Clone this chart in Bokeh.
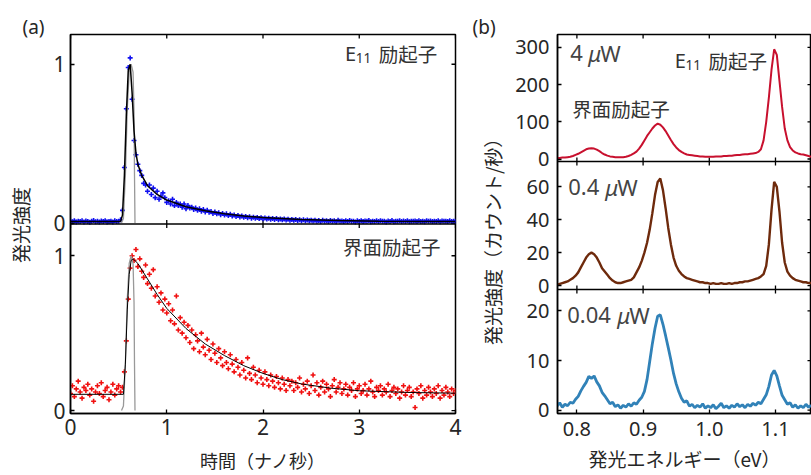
import numpy as np
from bokeh.plotting import figure
from bokeh.layouts import row
from bokeh.models import (Label, FixedTicker, Range1d, PrintfTickFormatter,
                          CustomJSTickFormatter, Span)
from bokeh.embed import file_html
from bokeh.resources import INLINE

JP = "Noto Sans CJK JP"
NUM = "Noto Sans"
INK = "#262626"

# ---------------- (a) time-resolved PL (time step 0.02 ns) ----------------
T_STEP = 0.02
e11_counts = [
    # 0.00 - 0.50
    0.012, 0.008, 0.015, 0.006, 0.011, 0.009, 0.014, 0.007, 0.013, 0.010,
    0.005, 0.012, 0.016, 0.008, 0.011, 0.006, 0.013, 0.009, 0.015, 0.007,
    0.010, 0.012, 0.006, 0.014, 0.009, 0.011,
    # 0.52 - 1.00
    0.02, 0.08, 0.35, 0.72, 0.98, 1.04, 0.78, 0.52, 0.43, 0.37,
    0.33, 0.30, 0.25, 0.24, 0.20, 0.24, 0.18, 0.22, 0.16, 0.20,
    0.15, 0.17, 0.19, 0.16, 0.13,
    # 1.02 - 2.50
    0.14, 0.12, 0.15, 0.11, 0.13, 0.11, 0.12, 0.10, 0.12, 0.09,
    0.11, 0.095, 0.10, 0.085, 0.095, 0.08, 0.09, 0.075, 0.085, 0.07,
    0.08, 0.068, 0.072, 0.06, 0.07, 0.058, 0.065, 0.052, 0.06, 0.05,
    0.058, 0.047, 0.055, 0.044, 0.05, 0.042, 0.048, 0.038, 0.045, 0.036,
    0.042, 0.034, 0.04, 0.031, 0.037, 0.03, 0.035, 0.028, 0.033, 0.027,
    0.032, 0.025, 0.03, 0.024, 0.029, 0.022, 0.028, 0.021, 0.026, 0.02,
    0.025, 0.019, 0.024, 0.018, 0.023, 0.017, 0.022, 0.016, 0.021, 0.015,
    0.02, 0.015, 0.019, 0.014, 0.018,
    # 2.52 - 4.00
    0.013, 0.017, 0.011, 0.016, 0.010, 0.018, 0.012, 0.015, 0.009, 0.016,
    0.011, 0.014, 0.008, 0.017, 0.012, 0.013, 0.009, 0.015, 0.010, 0.016,
    0.011, 0.012, 0.007, 0.014, 0.010, 0.015, 0.009, 0.013, 0.011, 0.016,
    0.008, 0.012, 0.010, 0.014, 0.009, 0.015, 0.011, 0.012, 0.007, 0.013,
    0.010, 0.016, 0.008, 0.012, 0.011, 0.014, 0.009, 0.013, 0.010, 0.015,
    0.008, 0.012, 0.011, 0.013, 0.009, 0.014, 0.010, 0.012, 0.008, 0.015,
    0.011, 0.013, 0.009, 0.012, 0.010, 0.014, 0.008, 0.013, 0.011, 0.012,
    0.009, 0.014, 0.010, 0.012, 0.011,
]
interface_counts = [
    # 0.00 - 0.54
    0.11, 0.16, 0.09, 0.14, 0.19, 0.12, 0.08, 0.15, 0.13, 0.17,
    0.10, 0.14, 0.06, 0.12, 0.16, 0.11, 0.18, 0.09, 0.13, 0.15,
    0.07, 0.12, 0.17, 0.10, 0.14, 0.16, 0.12, 0.15,
    # 0.56 - 1.00
    0.25, 0.45, 0.72, 0.92, 1.00, 0.97, 1.04, 0.93, 0.98, 0.90,
    0.86, 0.94, 0.82, 0.88, 0.79, 0.91, 0.74, 0.80, 0.70, 0.76,
    0.65, 0.72, 0.63,
    # 1.02 - 2.50
    0.69, 0.58, 0.65, 0.56, 0.74, 0.52, 0.60, 0.50, 0.57, 0.47,
    0.55, 0.44, 0.52, 0.40, 0.49, 0.45, 0.38, 0.50, 0.41, 0.36,
    0.46, 0.39, 0.33, 0.43, 0.37, 0.31, 0.40, 0.34, 0.29, 0.38,
    0.31, 0.27, 0.36, 0.30, 0.25, 0.33, 0.28, 0.23, 0.31, 0.26,
    0.21, 0.34, 0.24, 0.20, 0.28, 0.23, 0.18, 0.26, 0.21, 0.17,
    0.25, 0.20, 0.16, 0.23, 0.19, 0.15, 0.22, 0.18, 0.14, 0.21,
    0.17, 0.13, 0.20, 0.16, 0.19, 0.13, 0.18, 0.15, 0.21, 0.12,
    0.17, 0.14, 0.19, 0.11, 0.16,
    # 2.52 - 4.00
    0.23, 0.13, 0.18, 0.10, 0.15, 0.19, 0.12, 0.17, 0.14, 0.09,
    0.16, 0.20, 0.12, 0.15, 0.18, 0.11, 0.14, 0.17, 0.10, 0.15,
    0.13, 0.18, 0.09, 0.14, 0.16, 0.11, 0.13, 0.17, 0.10, 0.14,
    0.19, 0.12, 0.09, 0.15, 0.13, 0.16, 0.10, 0.14, 0.12, 0.17,
    0.09, 0.13, 0.15, 0.11, 0.14, 0.08, 0.12, 0.16, 0.10, 0.13,
    0.15, 0.09, 0.12, 0.02, 0.14, 0.11, 0.16, 0.08, 0.13, 0.10,
    0.15, 0.12, 0.09, 0.14, 0.11, 0.16, 0.08, 0.13, 0.10, 0.15,
    0.12, 0.09, 0.14, 0.11, 0.13,
]
e11_fit_t = [0, 0.52, 0.54, 0.56, 0.58, 0.60, 0.62, 0.64, 0.66, 0.68, 0.70, 0.74, 0.80,
             0.90, 1.0, 1.2, 1.4, 1.6, 1.8, 2.0, 2.4, 2.8, 3.2, 3.6, 4.0]
e11_fit_y = [0.01, 0.01, 0.05, 0.3, 0.68, 0.96, 1.0, 0.82, 0.58, 0.44, 0.37, 0.3, 0.235,
             0.18, 0.145, 0.103, 0.077, 0.058, 0.045, 0.035, 0.023, 0.016, 0.012, 0.01, 0.009]
if_fit_t = [0, 0.55, 0.57, 0.59, 0.61, 0.63, 0.65, 0.70, 0.80, 0.90, 1.0, 1.2, 1.4, 1.6,
            1.8, 2.0, 2.2, 2.4, 2.7, 3.0, 3.5, 4.0]
if_fit_y = [0.105, 0.105, 0.3, 0.65, 0.88, 0.97, 0.98, 0.95, 0.85, 0.75, 0.66, 0.53, 0.43,
            0.355, 0.29, 0.24, 0.2, 0.172, 0.145, 0.128, 0.117, 0.112]
irf_t = [0.53, 0.55, 0.57, 0.59, 0.61, 0.63, 0.65, 0.66, 0.665, 0.67]
irf_y = [0.0, 0.03, 0.3, 0.72, 0.95, 1.0, 0.95, 0.7, 0.3, 0.0]

time_ticks = [0, 1, 2, 3, 4]
norm_ticks = [0, 1]

# ---------------- (b) PL spectra (energy step 0.004 eV from 0.770 eV) ----------------
E_START = 0.770
E_STEP = 0.004
spec_4uW = [
    3, 3, 4, 4, 5, 6, 8, 11, 14, 18, 22, 26, 28, 29, 28, 25, 21, 16, 12, 9,
    7, 6, 5, 5, 5, 5, 6, 8, 11, 15, 20, 28, 38, 50, 62, 72, 82, 90, 95, 92,
    85, 75, 63, 51, 40, 31, 24, 19, 15, 12, 11, 10, 9, 8, 7, 7, 6, 6, 6, 6,
    7, 7, 7, 8, 8, 9, 9, 10, 11, 11, 12, 13, 13, 14, 15, 16, 19, 26, 50, 100,
    165, 240, 295, 280, 210, 140, 82, 50, 32, 23, 18, 15, 13, 12, 10, 8, 6,
]
spec_04uW = [
    0.5, 1, 1.5, 2, 2.5, 3.5, 4.5, 6, 8, 11, 14, 17, 19, 20, 19, 17, 14, 10.5, 8.5, 6.5,
    4.5, 3, 2, 1.5, 1.5, 2, 2.5, 3, 3.5, 5, 8, 11, 15, 20, 26, 34, 44, 55, 63, 65,
    58, 47, 35, 25, 17, 12, 9, 7, 5.5, 4.5, 4, 3.5, 3, 2.5, 2, 2, 1.5, 1.5, 1, 1.5,
    1, 1, 1.5, 1, 1, 1.5, 1, 1.5, 1.5, 2, 2, 2.5, 2.5, 3, 3.5, 4, 4.5, 5.5, 7, 12,
    25, 46, 63, 60, 45, 26, 14, 8.5, 6, 4.5, 3.5, 3, 2.5, 2, 2, 1.5, 1.5,
]
spec_004uW = [
    0.8, 1.5, 0.6, 1.2, 0.9, 1.6, 1.4, 2.2, 2.8, 3.9, 4.8, 5.6, 6.8, 6.4, 6.9, 5.7, 4.9, 3.6, 2.9, 2.1,
    1.3, 1.6, 0.7, 1.1, 0.4, 1.0, 0.6, 1.3, 0.8, 1.5, 1.2, 2.0, 2.6, 3.8, 6.2, 9.8, 13.4, 16.5, 18.9, 19.2,
    17.3, 15.0, 12.6, 10.1, 7.4, 5.3, 3.7, 2.4, 1.6, 1.9, 0.8, 1.2, 0.5, 1.0, 0.6, 1.3, 0.4, 0.9, 0.5, 1.1,
    0.3, 0.8, 1.4, 0.5, 0.9, 0.4, 1.0, 0.6, 1.3, 0.7, 1.1, 0.5, 1.2, 0.8, 1.4, 1.0, 1.6, 1.3, 2.2, 3.1,
    4.8, 7.1, 8.0, 6.9, 4.9, 3.0, 2.1, 1.2, 1.5, 0.6, 1.1, 0.4, 0.9, 0.5, 1.2, 0.6, 1.0,
]
energy_ticks = [0.8, 0.9, 1.0, 1.1]
ticks_4uW = [0, 100, 200, 300]
ticks_04uW = [0, 20, 40, 60]
ticks_004uW = [0, 10, 20]

t_e11 = [round(i * T_STEP, 2) for i in range(len(e11_counts))]
t_if = [round(i * T_STEP, 2) for i in range(len(interface_counts))]


def energies(n):
    return [round(E_START + i * E_STEP, 3) for i in range(n)]


# common layout geometry (row layouts align the plot frames)
H = 475
B_TOP = 34
B_BOT = 59
FRAME_TOP = B_TOP
FRAME_BOT = H - B_BOT


def vpos(px):
    """virtual (0..1) frame coordinate of a pixel row"""
    return (FRAME_BOT - px) / (FRAME_BOT - FRAME_TOP)


LABEL_JS = """
let best = 0;
for (let i = 0; i < pos.length; i++) {
  if (Math.abs(pos[i] - tick) < Math.abs(pos[best] - tick)) best = i;
}
return labels[best];
"""


def stacked(w, xr, xticks, panels, bl, br, tick_size, ystand, xstand, xfmt=None):
    """One canvas holding vertically stacked panels; each panel has its own y range."""
    p = figure(width=w, height=H, x_range=Range1d(*xr), y_range=Range1d(0, 1), title=None,
               output_backend="svg", toolbar_location=None,
               min_border_left=bl, min_border_right=br, min_border_top=B_TOP,
               min_border_bottom=B_BOT)
    p.grid.visible = False
    p.outline_line_color = "black"
    p.outline_line_width = 1.5
    extra, pos, labs = {}, [], []
    for name, (lo, hi), (v0, v1), ticks in panels:
        scale = (hi - lo) / (v1 - v0)
        extra[name] = Range1d(lo - v0 * scale, hi + (1 - v1) * scale)
        for t in ticks:
            pos.append(v0 + (t - lo) / scale)
            labs.append(str(t))
    p.extra_y_ranges = extra

    for ax, ticks in ((p.xaxis[0], xticks), (p.yaxis[0], pos)):
        ax.ticker = FixedTicker(ticks=ticks, minor_ticks=[])
        ax.major_tick_in = 4
        ax.major_tick_out = 0
        ax.minor_tick_in = 0
        ax.minor_tick_out = 0
        ax.major_tick_line_color = "black"
        ax.major_tick_line_width = 1.3
        ax.axis_line_color = "black"
        ax.axis_line_width = 1.5
        ax.major_label_text_font = NUM
        ax.major_label_text_font_size = tick_size
        ax.major_label_text_color = INK
    p.yaxis[0].major_label_standoff = ystand
    p.xaxis[0].major_label_standoff = xstand
    p.yaxis[0].formatter = CustomJSTickFormatter(args=dict(pos=pos, labels=labs), code=LABEL_JS)
    if xfmt is not None:
        p.xaxis[0].formatter = xfmt

    # inward ticks on the top edge, panel boundaries (crossing) and right edge
    p.scatter(xticks, [1] * len(xticks), marker="dash", angle=np.pi / 2, size=8,
              line_color="black", line_width=1.3)
    for name, (lo, hi), (v0, v1), ticks in panels:
        p.scatter([xr[1]] * len(ticks), ticks, y_range_name=name, marker="dash", size=8,
                  line_color="black", line_width=1.3)
        if v0 > 0:
            p.add_layout(Span(location=v0, dimension="width", line_color="black", line_width=1.5))
            p.scatter(xticks, [v0] * len(xticks), marker="dash", angle=np.pi / 2, size=8,
                      line_color="black", line_width=1.3)
    return p


def xlabel(p, text, size, standoff):
    ax = p.xaxis[0]
    ax.axis_label = text
    ax.axis_label_text_font = JP
    ax.axis_label_text_font_size = size
    ax.axis_label_text_font_style = "normal"
    ax.axis_label_text_color = INK
    ax.axis_label_standoff = standoff


def txt(p, x, y, text, rng="default", font=JP, size="19.5px", align="left", xo=0, yo=0,
        style="normal", color="#333333", angle=0):
    p.add_layout(Label(x=x, y=y, text=text, y_range_name=rng, text_font=font,
                       text_font_size=size, text_align=align, text_baseline="middle",
                       x_offset=xo, y_offset=yo, text_font_style=style,
                       text_color=color, angle=angle))


def e11_label(p, x, y, rng):
    txt(p, x, y, "励起子", rng, align="right")
    txt(p, x, y, "11", rng, font=NUM, size="13.5px", align="right", xo=-66, yo=-5)
    txt(p, x, y, "E", rng, font=NUM, size="20px", align="right", xo=-81)


def power_label(p, x, y, rng, num, mu_off, w_off):
    c = "#444444"
    txt(p, x, y, num, rng, font=NUM, size="22px", color=c)
    txt(p, x, y, "μ", rng, font=NUM, size="22px", xo=mu_off, style="italic", color=c)
    txt(p, x, y, "W", rng, font=NUM, size="22px", xo=w_off, color=c)


# ---------------- (a) ----------------
A_SPLIT = vpos(225)
fig_a = stacked(420, (0, 4), time_ticks,
                [("e11", (-0.006, 1.1875), (A_SPLIT, 1.0), norm_ticks),
                 ("itf", (-0.019, 1.205), (0.0, A_SPLIT), norm_ticks)],
                20, 15, "21px", 5, 5)
fig_a.scatter(t_e11, e11_counts, y_range_name="e11", marker="cross", size=5, line_width=1.6,
              color="#1010f0")
fig_a.line(irf_t, irf_y, y_range_name="e11", line_color="#999999", line_width=1.3)
fig_a.line(e11_fit_t, e11_fit_y, y_range_name="e11", line_color="black", line_width=1.5)
e11_label(fig_a, 3.81, 1.07, "e11")

fig_a.scatter(t_if, interface_counts, y_range_name="itf", marker="cross", size=5, line_width=1.6,
              color="#f01010")
fig_a.line(irf_t, irf_y, y_range_name="itf", line_color="#999999", line_width=1.3)
fig_a.line(if_fit_t, if_fit_y, y_range_name="itf", line_color="black", line_width=1.0)
txt(fig_a, 3.845, 1.06, "界面励起子", "itf", align="right")
xlabel(fig_a, "時間（ナノ秒）", "18px", 9)

# ---------------- (b) ----------------
B_S1 = vpos(162)
B_S2 = vpos(291)
fig_b = stacked(306, (0.7707, 1.1544), energy_ticks,
                [("p4", (-6.7, 334.7), (B_S1, 1.0), ticks_4uW),
                 ("p04", (-2.4, 75.4), (B_S2, B_S1), ticks_04uW),
                 ("p004", (-0.66, 24.3), (0.0, B_S2), ticks_004uW)],
                52, 0, "20px", 8, 8, PrintfTickFormatter(format="%.1f"))
fig_b.line(energies(len(spec_4uW)), spec_4uW, y_range_name="p4", line_color="#c8102e", line_width=2)
fig_b.line(energies(len(spec_04uW)), spec_04uW, y_range_name="p04", line_color="#6e2a0c", line_width=2.4)
fig_b.line(energies(len(spec_004uW)), spec_004uW, y_range_name="p004", line_color="#3182b8",
           line_width=2.8)
power_label(fig_b, 0.79, 284, "p4", "4", 18, 30)
e11_label(fig_b, 1.087, 265, "p4")
txt(fig_b, 0.7929, 137, "界面励起子", "p4")
power_label(fig_b, 0.787, 60, "p04", "0.4", 37, 49)
power_label(fig_b, 0.7854, 19.1, "p004", "0.04", 50, 62)
xlabel(fig_b, "発光エネルギー（eV）", "19px", 6)


# ---------------- label strips (data units = pixels, y measured from page bottom) ----------------
def strip(w, tag, tag_offset):
    p = figure(width=w, height=H, x_range=Range1d(0, w), y_range=Range1d(B_BOT, H - B_TOP),
               output_backend="svg", toolbar_location=None, x_axis_location=None,
               y_axis_location=None, min_border_left=0, min_border_right=0,
               min_border_top=B_TOP, min_border_bottom=B_BOT)
    p.title.text = tag
    p.title.align = "left"
    p.title.offset = tag_offset
    p.title.standoff = -10
    p.title.text_font = NUM
    p.title.text_font_size = "19px"
    p.title.text_font_style = "normal"
    p.title.text_color = INK
    p.grid.visible = False
    p.outline_line_color = None
    return p


lab_a = strip(50, "(a)", 22)
txt(lab_a, 20, H - 226, "発光強度", size="19px", align="center", color=INK, angle=np.pi / 2)

lab_b = strip(35, "(b)", 2)
txt(lab_b, 22, H - 238, "発光強度（カウント/秒）", size="19px", align="center", color=INK,
    angle=np.pi / 2)

layout = row(lab_a, fig_a, lab_b, fig_b)
open("out.html", "w").write(file_html(layout, INLINE))
